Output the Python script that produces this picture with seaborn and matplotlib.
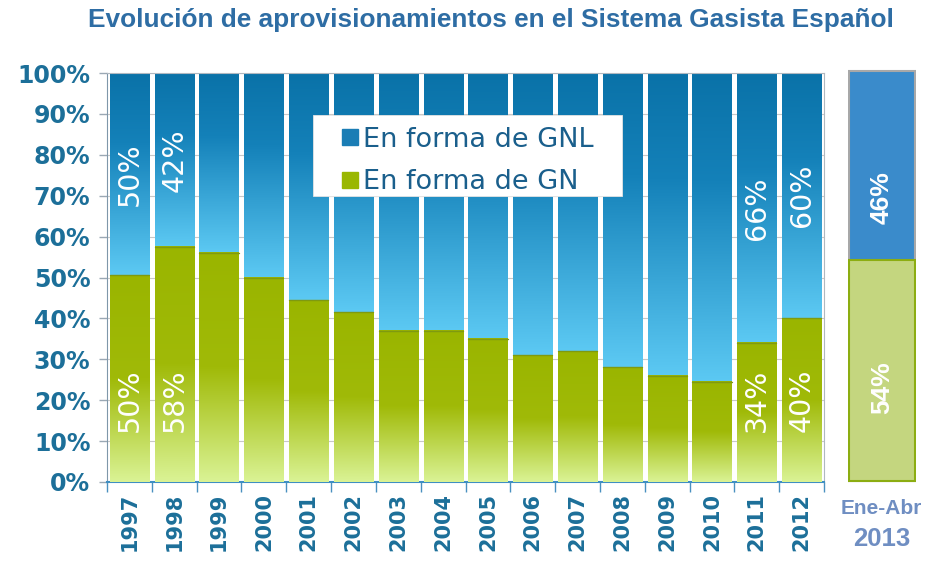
import numpy as np
import pandas as pd
import matplotlib
matplotlib.use("Agg")
import matplotlib.pyplot as plt
import seaborn as sns
from matplotlib.colors import LinearSegmentedColormap
from matplotlib.lines import Line2D
from matplotlib.patches import Rectangle

# ---- data ----
years = ["1997", "1998", "1999", "2000", "2001", "2002", "2003", "2004",
         "2005", "2006", "2007", "2008", "2009", "2010", "2011", "2012"]
gn = [50.5, 57.5, 56, 50, 44.5, 41.5, 37, 37, 35, 31, 32, 28, 26, 24.5, 34, 40]
gnl = [100 - v for v in gn]
gnl_labels = {"1997": "50%", "1998": "42%", "2011": "66%", "2012": "60%"}
gn_labels = {"1997": "50%", "1998": "58%", "2011": "34%", "2012": "40%"}
side_cat = ["Ene-Abr 2013"]
side_gn = [54]
side_gnl = [46]
yticks = [0, 10, 20, 30, 40, 50, 60, 70, 80, 90, 100]
title = "Evolución de aprovisionamientos en el Sistema Gasista Español"
series_names = ["En forma de GNL", "En forma de GN"]

sns.set_theme(style="white")
plt.rcParams["font.family"] = ["DejaVu Sans"]

TICKC = "#1c6f99"
fig = plt.figure(figsize=(9.26, 5.63), dpi=100)
ax = fig.add_axes([0.1156, 0.1439, 0.7743, 0.7264])
axs = fig.add_axes([0.9158, 0.142, 0.0734, 0.7354])

df = pd.DataFrame({"year": years, "total": [100] * len(years), "gn": gn})

cmap_gnl = LinearSegmentedColormap.from_list(
    "gnl", [(0, "#0a72a8"), (0.35, "#1481b9"), (1.0, "#5cc9f3")])
cmap_gn = LinearSegmentedColormap.from_list(
    "gn", [(0, "#9ab500"), (0.5, "#a0ba08"), (1.0, "#daf395")])

sns.barplot(data=df, x="year", y="total", color="#1a7db5", width=0.875,
            ax=ax, zorder=2, linewidth=0)
n_top = len(ax.patches)
sns.barplot(data=df, x="year", y="gn", color="#9ab700", width=0.875,
            ax=ax, zorder=3, linewidth=0)

grad = np.linspace(0, 1, 256).reshape(-1, 1)
for i, p in enumerate(ax.patches):
    x0, y0 = p.get_x(), p.get_y()
    w, h = p.get_width(), p.get_height()
    if i < n_top:
        ext = [x0, x0 + w, gn[i], y0 + h]
        cm = cmap_gnl
        z = 2.5
    else:
        ext = [x0, x0 + w, y0, y0 + h]
        cm = cmap_gn
        z = 3.5
    ax.imshow(grad, extent=ext, aspect="auto", cmap=cm, origin="upper",
              zorder=z, interpolation="bilinear")
    if i >= n_top:
        ax.plot([x0, x0 + w], [y0 + h, y0 + h], color="#7f9a10", lw=1.0,
                zorder=4)

ax.set_xlim(-0.5, len(years) - 0.5)
ax.set_ylim(0, 100)

for i, yr in enumerate(years):
    if yr in gnl_labels:
        ax.text(i, (gn[i] + 100) / 2, gnl_labels[yr], rotation=90, ha="center",
                va="center", color="white", fontsize=20.5, zorder=6)
    if yr in gn_labels:
        ax.text(i, 20, gn_labels[yr], rotation=90, ha="center", va="center",
                color="white", fontsize=20.5, zorder=6)

ax.set_yticks(yticks)
ax.set_yticklabels([f"{v}%" for v in yticks], fontsize=17, fontweight="bold",
                   color=TICKC)
ax.set_xticks(range(len(years)))
ax.set_xticklabels(years, rotation=90, fontsize=15, fontweight="bold",
                   color=TICKC)
ax.set_xlabel("")
ax.set_ylabel("")
ax.tick_params(axis="x", which="major", length=0, pad=8)
ax.set_xticks(np.arange(-0.5, len(years), 1), minor=True)
ax.tick_params(axis="x", which="minor", length=7, width=1, color="#4a90c0",
               direction="out", bottom=True)
ax.tick_params(axis="y", length=6, width=1, color="#9aa8b4", direction="out",
               left=True, pad=6)
ax.yaxis.grid(True, color="#c8c8c8", lw=0.8, zorder=0)
ax.set_axisbelow(True)
for s in ["left", "right", "top"]:
    ax.spines[s].set_visible(True)
    ax.spines[s].set_color("#b0b8c0")
    ax.spines[s].set_linewidth(0.8)
ax.spines["left"].set_color("#7f97aa")
ax.spines["bottom"].set_color("#3f8fc2")
ax.spines["bottom"].set_linewidth(1.5)

# legend box
ax.add_patch(Rectangle((0.287, 0.699), 0.431, 0.198, transform=ax.transAxes,
                       facecolor="white", edgecolor="#e4e4e4", lw=0.6,
                       zorder=9))
handles = [Line2D([], [], ls="none", marker="s", markersize=11,
                  markerfacecolor="#1a7db5", markeredgecolor="#1a7db5"),
           Line2D([], [], ls="none", marker="s", markersize=11,
                  markerfacecolor="#9ab700", markeredgecolor="#9ab700")]
leg = ax.legend(handles=handles, labels=series_names, loc="upper left",
                bbox_to_anchor=(0.318, 0.888), fontsize=19.5, frameon=False,
                handlelength=0.5, handletextpad=0.22, labelspacing=0.6,
                borderpad=0.3, borderaxespad=0)
for t in leg.get_texts():
    t.set_color("#1a5f8c")
leg.set_zorder(10)

# side panel
sdf = pd.DataFrame({"cat": side_cat, "total": [100], "gn": side_gn})
sns.barplot(data=sdf, x="cat", y="total", color="#3a8bcb", width=1.0, ax=axs,
            edgecolor="#a8a8a8", linewidth=1.5, saturation=1)
sns.barplot(data=sdf, x="cat", y="gn", color="#c4d67f", width=1.0, ax=axs,
            edgecolor="#8cad12", linewidth=1.5, saturation=1)
axs.set_xlim(-0.52, 0.52)
axs.set_ylim(-0.5, 100.5)
axs.axis("off")
axs.text(0.5, 0.69, f"{side_gnl[0]}%", rotation=90, transform=axs.transAxes,
         ha="center", va="center", color="white", fontsize=19,
         fontweight="bold", family="Liberation Sans")
axs.text(0.5, 0.23, f"{side_gn[0]}%", rotation=90, transform=axs.transAxes,
         ha="center", va="center", color="white", fontsize=19,
         fontweight="bold", family="Liberation Sans")
fig.text(0.952, 0.097, "Ene-Abr", ha="center", va="center", fontsize=15,
         fontweight="bold", color="#6f8ec2", family="Liberation Sans")
fig.text(0.952, 0.043, "2013", ha="center", va="center", fontsize=18.5,
         fontweight="bold", color="#6f8ec2", family="Liberation Sans")

fig.text(0.530, 0.964, title, ha="center", va="center", fontsize=18.9,
         fontweight="bold", color="#2e6da4", family="Liberation Sans")

fig.savefig("out.png", dpi=100)
